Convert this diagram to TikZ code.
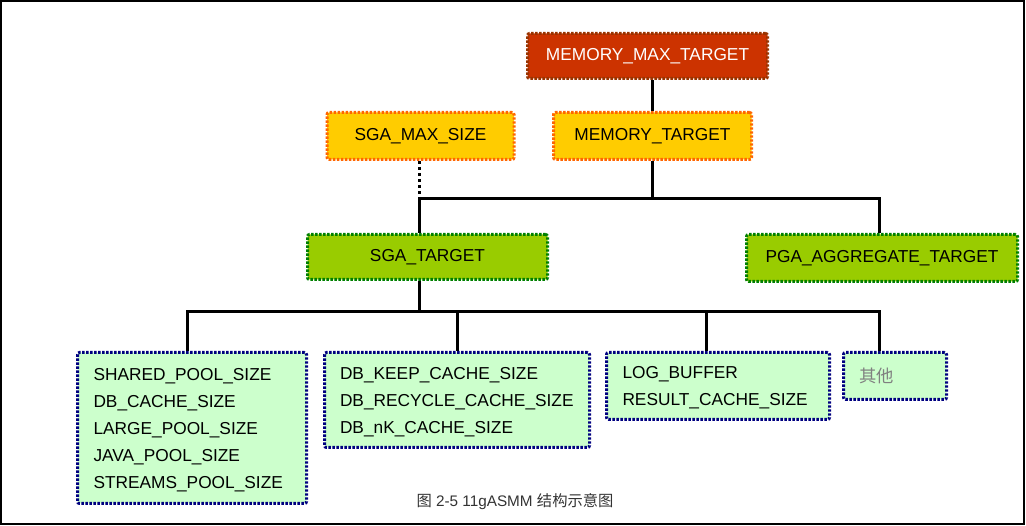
\documentclass[tikz,border=0pt]{standalone}
\usepackage{fontspec}
\setmainfont{Liberation Sans}
\newfontfamily\cjk{Noto Sans CJK SC}
\usepackage{tikz}
\usetikzlibrary{positioning}
\definecolor{maxred}{HTML}{CC3300}
\definecolor{maxedge}{HTML}{993300}
\definecolor{gold}{HTML}{FFCC00}
\definecolor{goldedge}{HTML}{FF6600}
\definecolor{leaf}{HTML}{99CC00}
\definecolor{leafedge}{HTML}{008000}
\definecolor{mint}{HTML}{CCFFCC}
\definecolor{navy}{HTML}{000080}
\tikzstyle{param}=[line width=3pt,dash pattern=on 2.4pt off 1.6pt,rounded corners=2pt,
  anchor=north west,inner xsep=16pt,inner ysep=0pt]
\tikzstyle{conn}=[line width=3pt,color=black]

\begin{document}
\begin{tikzpicture}[x=1pt,y=-1pt,every node/.style={font=\fontsize{17.3}{27}\selectfont}]
  \useasboundingbox (0,0) rectangle (1026,526);
  \draw[line width=2pt] (1,1) rectangle (1024,524);
  % top level
  \node[param,fill=maxred,draw=maxedge,text=white,minimum width=240pt,minimum height=45pt,
        align=center,text width=208pt] (mmt) at (526,32) {MEMORY\_MAX\_TARGET};
  \node[param,fill=gold,draw=goldedge,minimum width=198pt,minimum height=47pt,
        align=center,text width=166pt] (mt) at (552,111) {MEMORY\_TARGET};
  \node[param,fill=gold,draw=goldedge,minimum width=187pt,minimum height=47pt,
        align=center,text width=155pt] (sgamax) at (325.5,111) {SGA\_MAX\_SIZE};
  % SGA / PGA
  \node[param,fill=leaf,draw=leafedge,minimum width=240pt,minimum height=45pt,
        align=center,text width=208pt] (sgat) at (306,233) {SGA\_TARGET};
  \node[param,fill=leaf,draw=leafedge,minimum width=271pt,minimum height=47pt,
        align=center,text width=239pt] (pga) at (745,233) {PGA\_AGGREGATE\_TARGET};
  % components
  \node[param,fill=mint,draw=navy,minimum width=229pt,minimum height=151pt,
        align=left,text width=197pt] (pools) at (76,351)
        {\rule{0pt}{16pt}SHARED\_POOL\_SIZE\\DB\_CACHE\_SIZE\\LARGE\_POOL\_SIZE\\JAVA\_POOL\_SIZE\\STREAMS\_POOL\_SIZE};
  \node[param,fill=mint,draw=navy,minimum width=265pt,minimum height=95pt,
        align=left,text width=234pt,inner xsep=15pt] (caches) at (323,351)
        {\rule{0pt}{16pt}DB\_KEEP\_CACHE\_SIZE\\DB\_RECYCLE\_CACHE\_SIZE\\DB\_nK\_CACHE\_SIZE};
  \node[param,fill=mint,draw=navy,minimum width=223pt,minimum height=67pt,
        align=left,text width=191pt] (buffers) at (605,351)
        {\rule{0pt}{16pt}LOG\_BUFFER\\RESULT\_CACHE\_SIZE};
  \node[param,fill=mint,draw=navy,minimum width=103pt,minimum height=47pt,
        align=left,text width=71pt,text=black!50] (other) at (842,351) {\cjk 其他};
  % caption
  \node[font=\fontsize{15.3}{17}\selectfont,text=black!80] (cap) at (515,502)
        {{\cjk 图} 2-5 11gASMM {\cjk 结构示意图}};
  % connectors
  \coordinate (j1) at (419,199);
  \coordinate (j2) at (419,312);
  \coordinate (d1) at (187,312);
  \coordinate (d2) at (457,312);
  \coordinate (d3) at (706,312);
  \coordinate (d4) at (879,312);
  \draw[conn] (mmt.south -| mt.north) -- (mt.north);
  \draw[conn] (mt.south) -- (mt.south |- j1);
  \draw[conn] (j1 |- sgat.north) -- (j1) -| (pga.north -| d4);
  \draw[conn,dash pattern=on 3pt off 3pt] (sgamax.south -| j1) -- (j1);
  \draw[conn] (j1 |- sgat.south) -- (j2);
  \draw[conn] (d1 |- pools.north) -- (d1) -- (d4) -- (d4 |- other.north);
  \draw[conn] (d2) -- (d2 |- caches.north);
  \draw[conn] (d3) -- (d3 |- buffers.north);
\end{tikzpicture}
\end{document}
